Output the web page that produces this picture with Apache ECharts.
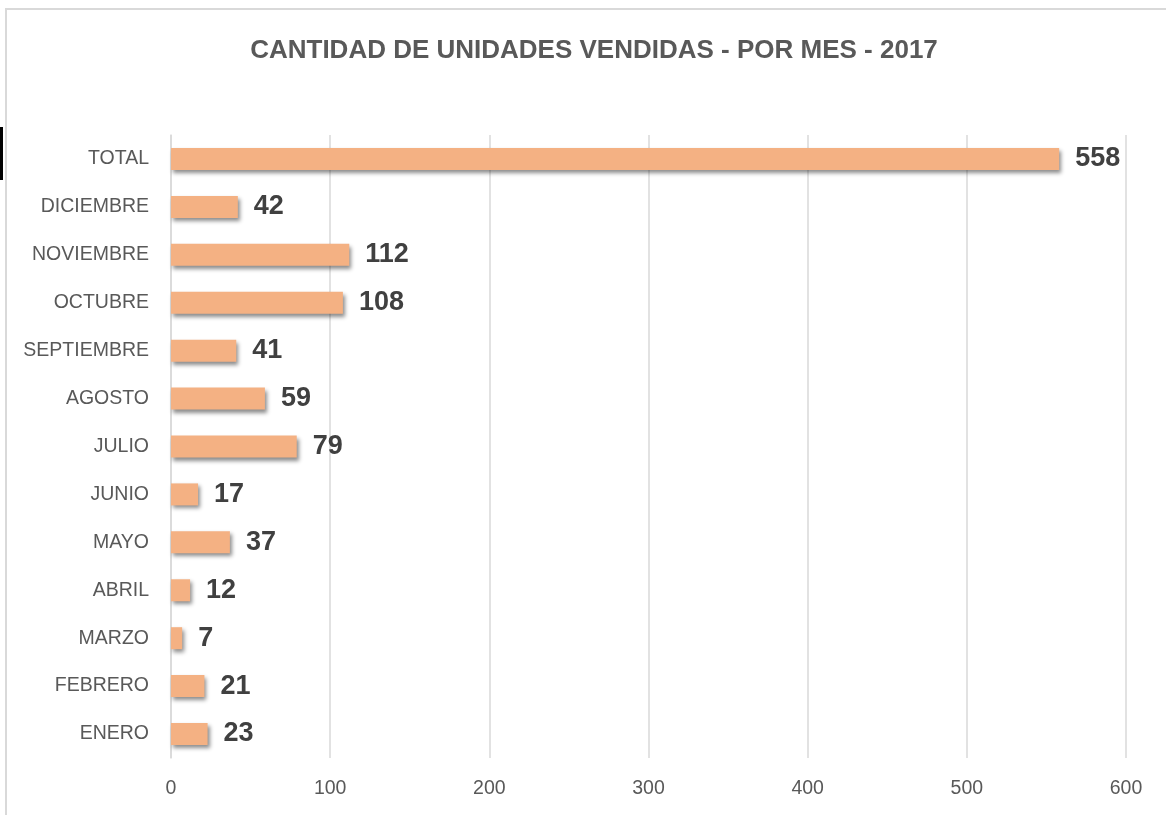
<!DOCTYPE html>
<html>
<head>
<meta charset="utf-8">
<script src="https://cdn.jsdelivr.net/npm/echarts@6/dist/echarts.min.js"></script>
<style>
    html, body { margin: 0; padding: 0; background: #ffffff; }
    #frame {
        position: absolute;
        left: 5px;
        top: 8px;
        width: 1161px;
        height: 807px;
        border-left: 2px solid #d9d9d9;
        border-top: 2px solid #d9d9d9;
        box-sizing: border-box;
    }
    #mark {
        position: absolute;
        left: 0;
        top: 127px;
        width: 3px;
        height: 53px;
        background: #000000;
    }
    #chart { position: absolute; left: 0; top: 0; width: 1166px; height: 815px; }
</style>
</head>
<body>
<div id="frame"></div>
<div id="mark"></div>
<div id="chart"></div>
<script>
const titleText = "CANTIDAD DE UNIDADES VENDIDAS - POR MES - 2017";
const months = ["ENERO", "FEBRERO", "MARZO", "ABRIL", "MAYO", "JUNIO", "JULIO",
    "AGOSTO", "SEPTIEMBRE", "OCTUBRE", "NOVIEMBRE", "DICIEMBRE", "TOTAL"];
const units = [23, 21, 7, 12, 37, 17, 79, 59, 41, 108, 112, 42, 558];
const xTicks = [0, 100, 200, 300, 400, 500, 600];

// no narrow font installed, so sizes are tuned to match the reference widths
const font = "'Liberation Sans Narrow', 'Liberation Sans', Arial, sans-serif";

const chart = echarts.init(document.getElementById("chart"));

chart.setOption({
    animation: false,
    title: {
        text: titleText,
        left: 589,
        textAlign: "center",
        top: 33,
        textStyle: {
            color: "#595959",
            fontFamily: font,
            fontWeight: "bold",
            fontSize: 26
        }
    },
    grid: {
        top: 135,
        right: 40,
        bottom: 57,
        left: 171
    },
    xAxis: {
        type: "value",
        min: xTicks[0],
        max: xTicks[xTicks.length - 1],
        interval: 100,
        axisLine: { show: false },
        axisTick: { show: false },
        splitLine: {
            lineStyle: { color: "#d9d9d9", width: 1.5 }
        },
        axisLabel: {
            color: "#595959",
            fontFamily: font,
            fontSize: 19.5,
            margin: 21
        }
    },
    yAxis: {
        type: "category",
        data: months,
        axisTick: { show: false },
        axisLine: {
            lineStyle: { color: "#d9d9d9", width: 1.5 }
        },
        axisLabel: {
            color: "#595959",
            fontFamily: font,
            fontSize: 19.5,
            margin: 22
        }
    },
    series: [{
        name: "Unidades",
        type: "bar",
        data: units,
        barWidth: 22,
        itemStyle: {
            color: "#f4b183",
            shadowColor: "rgba(0, 0, 0, 0.45)",
            shadowBlur: 4,
            shadowOffsetX: 2,
            shadowOffsetY: 3
        },
        label: {
            show: true,
            position: "right",
            distance: 16,
            color: "#404040",
            fontFamily: font,
            fontWeight: "bold",
            fontSize: 27
        }
    }]
});
</script>
</body>
</html>
